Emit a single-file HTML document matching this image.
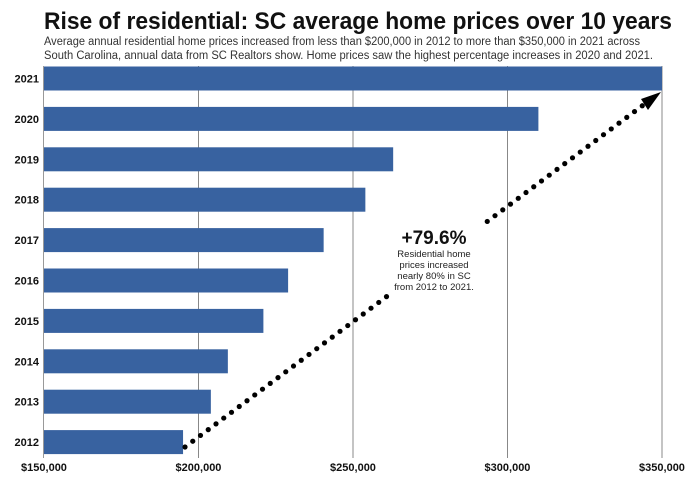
<!DOCTYPE html>
<html><head><meta charset="utf-8"><style>
body{margin:0;background:#fff;}
svg{display:block;font-family:"Liberation Sans",Arial,sans-serif;}
</style></head><body>
<svg id="chart" width="695" height="484" viewBox="0 0 695 484">
<text x="44" y="29" font-size="24" font-weight="bold" fill="#111" textLength="628" lengthAdjust="spacingAndGlyphs">Rise of residential: SC average home prices over 10 years</text>
<text x="44" y="45" font-size="11.5" fill="#333" textLength="596" lengthAdjust="spacingAndGlyphs">Average annual residential home prices increased from less than $200,000 in 2012 to more than $350,000 in 2021 across</text>
<text x="44" y="59" font-size="11.5" fill="#333" textLength="609" lengthAdjust="spacingAndGlyphs">South Carolina, annual data from SC Realtors show. Home prices saw the highest percentage increases in 2020 and 2021.</text>
<g id="grid"></g><g id="bars"></g><g id="ylabels"></g><g id="xlabels"></g>
<g id="arrow"></g>
<text x="434" y="244" font-size="19" font-weight="bold" text-anchor="middle" fill="#111">+79.6%</text>
<g font-size="9.5" text-anchor="middle" fill="#222">
<text x="434" y="257">Residential home</text><text x="434" y="268">prices increased</text><text x="434" y="279">nearly 80% in SC</text><text x="434" y="290">from 2012 to 2021.</text></g>
</svg>
<script>
const years=["2021","2020","2019","2018","2017","2016","2015","2014","2013","2012"];
const prices=[350000,310000,263000,254000,240500,229000,221000,209500,204000,195000];
const ticks=[150000,200000,250000,300000,350000];
const tickLabels=["$150,000","$200,000","$250,000","$300,000","$350,000"];
const NS="http://www.w3.org/2000/svg";
const x=v=>44+(v-150000)*(618/200000);
const yc=i=>78.5+i*40.4;
function mk(t,a,p){const e=document.createElementNS(NS,t);for(const k in a)e.setAttribute(k,a[k]);document.getElementById(p).appendChild(e);return e;}
let l=mk('line',{x1:43.5,x2:43.5,y1:66,y2:458,stroke:'#999'},'grid');


ticks.forEach((t,i)=>{
 if(i>0){const g=mk('line',{x1:x(t),x2:x(t),y1:66,y2:458,stroke:'#888','stroke-width':1},'grid');
 
 }
 const tx=mk('text',{x:x(t),y:471,'font-size':11,'font-weight':'bold','text-anchor':'middle',fill:'#111'},'xlabels');
 tx.textContent=tickLabels[i];
 
 
});
years.forEach((yr,i)=>{
 const r=mk('rect',{x:44,y:yc(i)-12,width:x(prices[i])-44,height:24,fill:'#3862a0'},'bars');
 
 
 const t=mk('text',{x:39,y:yc(i)+4,'font-size':11,'font-weight':'bold','text-anchor':'end',fill:'#111'},'ylabels');
 t.textContent=yr;
 
 
});
const x0=185,y0=447,x1=650,y1=100;
const len=Math.hypot(x1-x0,y1-y0),n=Math.floor(len/9.6);
for(let k=0;k<=n;k++){const f=k/n,px=x0+(x1-x0)*f,py=y0+(y1-y0)*f;
 if(px>388&&px<482)continue;
 const c=mk('circle',{cx:px,cy:py,r:2.6,fill:'#000'},'arrow');
 
 }
const h=mk('polygon',{points:'661,92 641,99 648,110',fill:'#000'},'arrow');


</script>
</body></html>
